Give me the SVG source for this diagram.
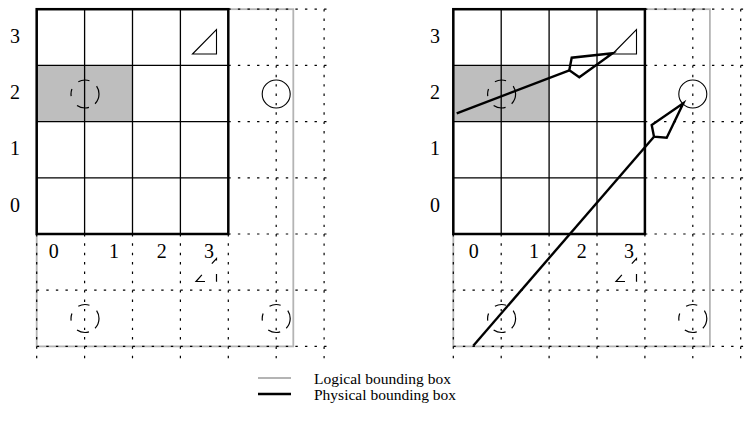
<svg xmlns="http://www.w3.org/2000/svg" width="756" height="429" viewBox="0 0 756 429">
<style>
.shade{fill:#bebebe}
.logical{fill:none;stroke:#b4b4b4;stroke-width:1.8}
.doth{stroke:#000;stroke-width:1.2;stroke-dasharray:2.4 7.18;fill:none}
.dotv{stroke:#000;stroke-width:1.2;stroke-dasharray:2.4 6.97;fill:none}
.grid{stroke:#000;stroke-width:1.3;fill:none}
.frame{stroke:#000;stroke-width:2.5;fill:none}
.glyph{stroke:#000;stroke-width:1.1;fill:none}
.dcirc{stroke:#000;stroke-width:1.2;fill:none;stroke-dasharray:19.5 7.1 12.5 11.2 7.3 9.8 11.5 9;stroke-dashoffset:8.8}
.dtri{stroke:#000;stroke-width:1.2;fill:none;stroke-dasharray:7.5 13.5 9 15 17.8 11.5}
.phys{stroke:#000;stroke-width:2.4;fill:none;stroke-linejoin:miter}
.legl{stroke:#b4b4b4;stroke-width:2;fill:none}
.legp{stroke:#000;stroke-width:2.5;fill:none}
text{font-family:"Liberation Serif","Times New Roman",serif;font-size:20px;fill:#000}
.lab{text-anchor:middle}
.leg{font-size:15.5px}
</style>
<defs>
<g id="panel">
<rect class="shade" x="36.7" y="65.4" width="95.8" height="56.2"/>
<rect class="logical" x="36.7" y="9.2" width="256.6" height="337.2"/>
<path class="doth" d="M228.3 9.2H330M228.3 65.4H330M228.3 121.6H330M228.3 177.8H330M228.3 234H330M36.7 290.2H330M36.7 346.4H330"/>
<path class="dotv" d="M36.7 234V364M84.6 234V364M132.5 234V364M180.4 234V364M228.3 234V364M276.2 9.2V364M324.1 9.2V364"/>
<path class="grid" d="M84.6 9.2V234M132.5 9.2V234M180.4 9.2V234M36.7 65.4H228.3M36.7 121.6H228.3M36.7 177.8H228.3"/>
<rect class="frame" x="36.7" y="9.2" width="191.6" height="224.8"/>
<circle class="glyph" cx="276.2" cy="94" r="14"/>
<circle class="dcirc" cx="85" cy="94" r="14"/>
<circle class="dcirc" cx="85" cy="318.5" r="14"/>
<circle class="dcirc" cx="276.2" cy="318.5" r="14"/>
</g>
<g id="marks">
<polygon class="glyph" points="192.5,54 216.5,29.5 216.5,54"/>
<path class="dtri" d="M216.5 281.5V258.5L196 281.5Z"/>
<text class="lab" x="15" y="43">3</text>
<text class="lab" x="15" y="99.2">2</text>
<text class="lab" x="15" y="155.4">1</text>
<text class="lab" x="15" y="211.6">0</text>
<text class="lab" x="53.7" y="258">0</text>
<text class="lab" x="114" y="258">1</text>
<text class="lab" x="161.7" y="258">2</text>
<text class="lab" x="209" y="258">3</text>
</g>
</defs>
<g id="left-panel">
<use href="#panel"/>
<use href="#marks"/>
</g>
<g id="right-panel">
<use href="#panel" transform="translate(416.6 0)"/>
<use href="#marks" transform="translate(420 0)"/>
</g>
<g id="connectors">
<path class="phys" d="M456.7 113.3L569.3 70.3"/>
<polygon class="phys" points="612.7,53.3 571.7,57.7 569.3,70.3 579.3,77.3"/>
<path class="phys" d="M473.3 345.7L654 136.7"/>
<polygon class="phys" points="683.3,103.3 651.7,125 654,136.7 666.7,137.7"/>
</g>
<g id="legend">
<path class="legl" d="M258 378H291"/>
<path class="legp" d="M258 394H291"/>
<text class="leg" x="314" y="384">Logical bounding box</text>
<text class="leg" x="314" y="400">Physical bounding box</text>
</g>
</svg>
